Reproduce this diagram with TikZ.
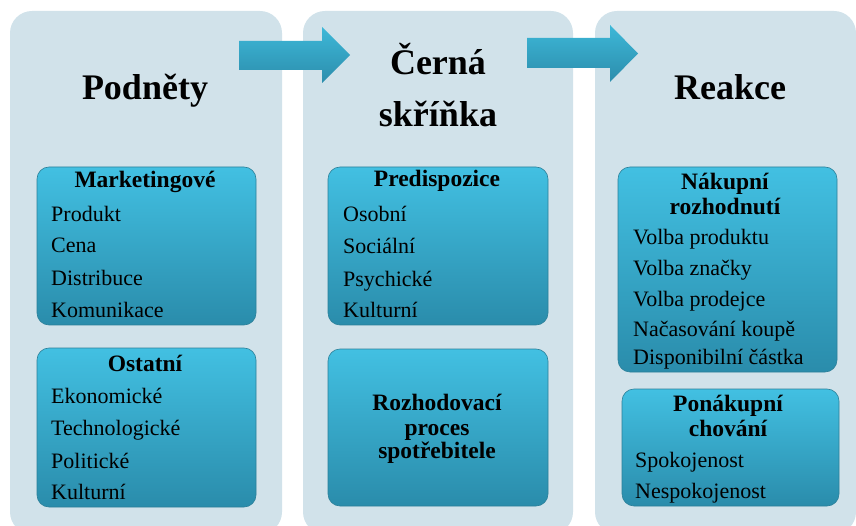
\documentclass[tikz,border=0pt]{standalone}
\usepackage{fontspec}
\setmainfont{Liberation Serif}
\definecolor{panelbg}{HTML}{D1E2EA}
\definecolor{boxtop}{HTML}{42C0E2}
\definecolor{boxbot}{HTML}{2A8CAB}
\definecolor{boxline}{HTML}{2C8099}
\definecolor{arrtop}{HTML}{3DB8D8}
\definecolor{arrbot}{HTML}{2C8DAC}

\begin{document}
\begin{tikzpicture}[x=1pt,y=-1pt,
    panel/.style={fill=panelbg,rounded corners=22pt,inner sep=0pt},
    box/.style={draw=boxline,line width=0.6pt,top color=boxtop,bottom color=boxbot,rounded corners=12pt,inner sep=0pt},
    item/.style={anchor=base west,inner sep=0pt,font=\fontsize{22}{26}\selectfont},
    head/.style={anchor=base,inner sep=0pt,font=\fontsize{23.5}{27}\selectfont\bfseries},
    title/.style={anchor=base,inner sep=0pt,font=\fontsize{36}{40}\selectfont\bfseries}]
    \useasboundingbox (0,0) rectangle (856,526);
    % panels
    \node[panel,minimum width=272,minimum height=523] (p1) at (146,272.5) {};
    \node[panel,minimum width=270,minimum height=523] (p2) at (438,272.5) {};
    \node[panel,minimum width=261,minimum height=523] (p3) at (725.5,272.5) {};
    % arrows
    \shade[top color=arrtop,bottom color=arrbot] (239,41) -- (322,41) -- (322,27) -- (350,55)
        -- (322,83) -- (322,70) -- (239,70) -- cycle;
    \shade[top color=arrtop,bottom color=arrbot] (527,38) -- (610,38) -- (610,25) -- (638,53.5)
        -- (610,82) -- (610,68) -- (527,68) -- cycle;
    % titles
    \node[title] (t1) at (145,100) {Podněty};
    \node[title] (t2a) at (438,75) {Černá};
    \node[title] (t2b) at (438,127) {skříňka};
    \node[title] (t3) at (730,100) {Reakce};
    % boxes
    \node[box,minimum width=219,minimum height=158] (b1) at (146.5,246) {};
    \node[box,minimum width=219,minimum height=159] (b2) at (146.5,427.5) {};
    \node[box,minimum width=220,minimum height=158] (b3) at (438,246) {};
    \node[box,minimum width=220,minimum height=157] (b4) at (438,427.5) {};
    \node[box,minimum width=219,minimum height=205] (b5) at (727.5,269.5) {};
    \node[box,minimum width=217,minimum height=117] (b6) at (730.5,447.5) {};
    % column 1
    \node[head] (h1) at (145,188) {Marketingové};
    \node[item] (m1) at (51,222) {Produkt};
    \node[item] (m2) at (51,253) {Cena};
    \node[item] (m3) at (51,286) {Distribuce};
    \node[item] (m4) at (51,317) {Komunikace};
    \node[head] (h2) at (145,371) {Ostatní};
    \node[item] (o1) at (51,403) {Ekonomické};
    \node[item] (o2) at (51,435) {Technologické};
    \node[item] (o3) at (51,468) {Politické};
    \node[item] (o4) at (51,499) {Kulturní};
    % column 2
    \node[head] (h3) at (437,187) {Predispozice};
    \node[item] (d1) at (343,222) {Osobní};
    \node[item] (d2) at (343,254) {Sociální};
    \node[item] (d3) at (343,287) {Psychické};
    \node[item] (d4) at (343,318) {Kulturní};
    \node[head] (r1) at (437,410) {Rozhodovací};
    \node[head] (r2) at (437,435) {proces};
    \node[head] (r3) at (437,458) {spotřebitele};
    % column 3
    \node[head] (h5a) at (725,190) {Nákupní};
    \node[head] (h5b) at (725,215) {rozhodnutí};
    \node[item] (n1) at (633,245) {Volba produktu};
    \node[item] (n2) at (633,276) {Volba značky};
    \node[item] (n3) at (633,307) {Volba prodejce};
    \node[item] (n4) at (633,337) {Načasování koupě};
    \node[item] (n5) at (633,364) {Disponibilní částka};
    \node[head] (h6a) at (728,411) {Ponákupní};
    \node[head] (h6b) at (728,436) {chování};
    \node[item] (s1) at (635,467) {Spokojenost};
    \node[item] (s2) at (635,498) {Nespokojenost};
\end{tikzpicture}
\end{document}
